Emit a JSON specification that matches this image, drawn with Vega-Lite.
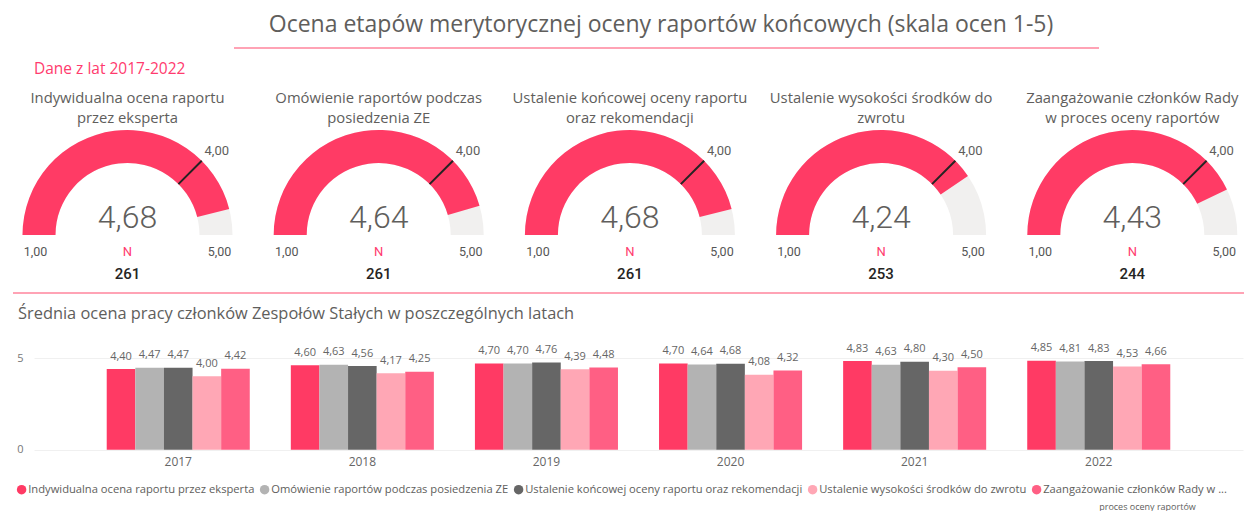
{
  "$schema": "https://vega.github.io/schema/vega-lite/v6.json",
  "padding": {"left": 12, "top": 14, "right": 0, "bottom": 0},
  "background": "white",
  "config": {
    "view": {"stroke": null},
    "font": "Open Sans",
    "locale": {"number": {"decimal": ",", "thousands": " ", "grouping": [3], "currency": ["", " zł"]}},
    "title": {"fontWeight": "normal", "color": "#605E5C", "font": "Open Sans"}
  },
  "title": {"text": "Ocena etapów merytorycznej oceny raportów końcowych (skala ocen 1-5)", "fontSize": 23, "anchor": "middle", "dx": 32, "offset": 10},
  "datasets": {
    "etapy": [
      {"etap": "Indywidualna ocena raportu przez eksperta", "tytul": "Indywidualna ocena raportu\nprzez eksperta", "srednia": 4.68, "prog": 4, "min": 1, "max": 5, "n": 261},
      {"etap": "Omówienie raportów podczas posiedzenia ZE", "tytul": "Omówienie raportów podczas\nposiedzenia ZE", "srednia": 4.64, "prog": 4, "min": 1, "max": 5, "n": 261},
      {"etap": "Ustalenie końcowej oceny raportu oraz rekomendacji", "tytul": "Ustalenie końcowej oceny raportu\noraz rekomendacji", "srednia": 4.68, "prog": 4, "min": 1, "max": 5, "n": 261},
      {"etap": "Ustalenie wysokości środków do zwrotu", "tytul": "Ustalenie wysokości środków do\nzwrotu", "srednia": 4.24, "prog": 4, "min": 1, "max": 5, "n": 253},
      {"etap": "Zaangażowanie członków Rady w proces oceny raportów", "tytul": "Zaangażowanie członków Rady\nw proces oceny raportów", "srednia": 4.43, "prog": 4, "min": 1, "max": 5, "n": 244}
    ],
    "lata": [
      {"rok": "2017", "etap": "Indywidualna ocena raportu przez eksperta", "wartosc": 4.40},
      {"rok": "2017", "etap": "Omówienie raportów podczas posiedzenia ZE", "wartosc": 4.47},
      {"rok": "2017", "etap": "Ustalenie końcowej oceny raportu oraz rekomendacji", "wartosc": 4.47},
      {"rok": "2017", "etap": "Ustalenie wysokości środków do zwrotu", "wartosc": 4.00},
      {"rok": "2017", "etap": "Zaangażowanie członków Rady w proces oceny raportów", "wartosc": 4.42},
      {"rok": "2018", "etap": "Indywidualna ocena raportu przez eksperta", "wartosc": 4.60},
      {"rok": "2018", "etap": "Omówienie raportów podczas posiedzenia ZE", "wartosc": 4.63},
      {"rok": "2018", "etap": "Ustalenie końcowej oceny raportu oraz rekomendacji", "wartosc": 4.56},
      {"rok": "2018", "etap": "Ustalenie wysokości środków do zwrotu", "wartosc": 4.17},
      {"rok": "2018", "etap": "Zaangażowanie członków Rady w proces oceny raportów", "wartosc": 4.25},
      {"rok": "2019", "etap": "Indywidualna ocena raportu przez eksperta", "wartosc": 4.70},
      {"rok": "2019", "etap": "Omówienie raportów podczas posiedzenia ZE", "wartosc": 4.70},
      {"rok": "2019", "etap": "Ustalenie końcowej oceny raportu oraz rekomendacji", "wartosc": 4.76},
      {"rok": "2019", "etap": "Ustalenie wysokości środków do zwrotu", "wartosc": 4.39},
      {"rok": "2019", "etap": "Zaangażowanie członków Rady w proces oceny raportów", "wartosc": 4.48},
      {"rok": "2020", "etap": "Indywidualna ocena raportu przez eksperta", "wartosc": 4.70},
      {"rok": "2020", "etap": "Omówienie raportów podczas posiedzenia ZE", "wartosc": 4.64},
      {"rok": "2020", "etap": "Ustalenie końcowej oceny raportu oraz rekomendacji", "wartosc": 4.68},
      {"rok": "2020", "etap": "Ustalenie wysokości środków do zwrotu", "wartosc": 4.08},
      {"rok": "2020", "etap": "Zaangażowanie członków Rady w proces oceny raportów", "wartosc": 4.32},
      {"rok": "2021", "etap": "Indywidualna ocena raportu przez eksperta", "wartosc": 4.83},
      {"rok": "2021", "etap": "Omówienie raportów podczas posiedzenia ZE", "wartosc": 4.63},
      {"rok": "2021", "etap": "Ustalenie końcowej oceny raportu oraz rekomendacji", "wartosc": 4.80},
      {"rok": "2021", "etap": "Ustalenie wysokości środków do zwrotu", "wartosc": 4.30},
      {"rok": "2021", "etap": "Zaangażowanie członków Rady w proces oceny raportów", "wartosc": 4.50},
      {"rok": "2022", "etap": "Indywidualna ocena raportu przez eksperta", "wartosc": 4.85},
      {"rok": "2022", "etap": "Omówienie raportów podczas posiedzenia ZE", "wartosc": 4.81},
      {"rok": "2022", "etap": "Ustalenie końcowej oceny raportu oraz rekomendacji", "wartosc": 4.83},
      {"rok": "2022", "etap": "Ustalenie wysokości środków do zwrotu", "wartosc": 4.53},
      {"rok": "2022", "etap": "Zaangażowanie członków Rady w proces oceny raportów", "wartosc": 4.66}
    ]
  },
  "spacing": 0,
  "bounds": "flush",
  "vconcat": [
    {
      "width": 1211, "height": 129,
      "data": {"values": [{}]},
      "mark": {"type": "rule", "color": "#FFA3B5", "strokeWidth": 2},
      "encoding": {
        "x": {"datum": 200, "type": "quantitative", "scale": {"domain": [0, 1211], "nice": false, "zero": false}, "axis": null},
        "x2": {"datum": 1065},
        "y": {"datum": 1, "type": "quantitative", "scale": {"domain": [0, 1], "nice": false}, "axis": null}
      }
    },
    {
      "width": 1191.8, "height": 116,
      "data": {"name": "etapy"},
      "title": {"text": "Dane z lat 2017-2022", "anchor": "start", "frame": "group", "color": "#FF3B6E", "fontSize": 15.5, "offset": 14},
      "encoding": {
        "x": {"field": "etap", "type": "nominal", "sort": ["Indywidualna ocena raportu przez eksperta", "Omówienie raportów podczas posiedzenia ZE", "Ustalenie końcowej oceny raportu oraz rekomendacji", "Ustalenie wysokości środków do zwrotu", "Zaangażowanie członków Rady w proces oceny raportów"], "scale": {"type": "point", "padding": 0.3722}, "axis": null}
      },
      "layer": [
        {"mark": {"type": "arc", "radius": 105, "radius2": 72, "color": "#F1F0EF"}, "encoding": {"theta": {"field": "min", "type": "quantitative", "stack": null, "scale": {"domain": [1, 5], "range": [-1.5708, 1.5708], "zero": false}}, "theta2": {"field": "max"}}},
        {"mark": {"type": "arc", "radius": 105, "radius2": 72, "color": "#FF3B65"}, "encoding": {"theta": {"field": "min", "type": "quantitative", "stack": null}, "theta2": {"field": "srednia"}}},
        {"mark": {"type": "arc", "radius": 105, "radius2": 72, "color": "#252423", "stroke": "#252423", "strokeWidth": 2}, "encoding": {"theta": {"field": "prog", "type": "quantitative", "stack": null}, "theta2": {"field": "prog"}}},
        {"mark": {"type": "text", "radius": 122, "dx": 3, "dy": 2, "fontSize": 13, "font": "Roboto", "color": "#605E5C"}, "encoding": {"theta": {"field": "prog", "type": "quantitative", "stack": null}, "text": {"field": "prog", "type": "quantitative", "format": ".2f"}}},
        {"mark": {"type": "text", "radius": 92, "dy": 16.7, "fontSize": 12.5, "font": "Roboto", "color": "#555555"}, "encoding": {"theta": {"field": "min", "type": "quantitative", "stack": null}, "text": {"field": "min", "type": "quantitative", "format": ".2f"}}},
        {"mark": {"type": "text", "radius": 92, "dy": 16.7, "fontSize": 12.5, "font": "Roboto", "color": "#555555"}, "encoding": {"theta": {"field": "max", "type": "quantitative", "stack": null}, "text": {"field": "max", "type": "quantitative", "format": ".2f"}}},
        {"mark": {"type": "text", "dy": -17.5, "fontSize": 32, "fontWeight": 300, "font": "Roboto", "color": "#605E5C"}, "encoding": {"text": {"field": "srednia", "type": "quantitative", "format": ".2f"}}},
        {"mark": {"type": "text", "text": "N", "dy": 16.7, "fontSize": 13, "font": "Roboto", "color": "#FF3B6E"}, "encoding": {}},
        {"mark": {"type": "text", "dy": 39, "fontSize": 15, "fontWeight": 500, "font": "Roboto", "color": "#252423"}, "encoding": {"text": {"field": "n", "type": "quantitative"}}},
        {"mark": {"type": "text", "baseline": "top", "lineBreak": "\n", "lineHeight": 20, "dy": -144, "fontSize": 14.8, "font": "Open Sans", "color": "#605E5C"}, "encoding": {"text": {"field": "tytul", "type": "nominal"}}}
      ]
    },
    {
      "width": 1211, "height": 64.7,
      "data": {"values": [{}]},
      "mark": {"type": "rule", "color": "#FFA3B5", "strokeWidth": 2},
      "encoding": {
        "x": {"datum": -21, "type": "quantitative", "scale": {"domain": [0, 1211], "nice": false, "zero": false}, "axis": null},
        "x2": {"datum": 1211},
        "y": {"datum": 1, "type": "quantitative", "scale": {"domain": [0, 1], "nice": false}, "axis": null}
      }
    },
    {
      "width": 1209, "height": 91.7,
      "data": {"name": "lata"},
      "title": {"text": "Średnia ocena pracy członków Zespołów Stałych w poszczególnych latach", "anchor": "start", "frame": "group", "fontSize": 16.4, "dx": -16, "offset": 20},
      "encoding": {
        "x": {"field": "rok", "type": "nominal", "scale": {"paddingInner": 0.223, "paddingOuter": 0.395},
              "axis": {"title": "proces oceny raportów", "labelAngle": 0, "domain": false, "ticks": false, "labelFontSize": 12, "labelColor": "#666666", "labelPadding": 7,
                       "titleFontSize": 9, "titleColor": "#605E5C", "titleFontWeight": "normal", "titleX": 1113, "titleY": 57, "titleAlign": "center", "titleBaseline": "middle"}},
        "xOffset": {"field": "etap", "type": "nominal", "sort": ["Indywidualna ocena raportu przez eksperta", "Omówienie raportów podczas posiedzenia ZE", "Ustalenie końcowej oceny raportu oraz rekomendacji", "Ustalenie wysokości środków do zwrotu", "Zaangażowanie członków Rady w proces oceny raportów"], "scale": {"paddingInner": 0, "paddingOuter": 0}},
        "y": {"field": "wartosc", "type": "quantitative", "scale": {"domain": [0, 5], "nice": false},
              "axis": {"values": [0, 5], "title": null, "domain": false, "ticks": false, "labelFontSize": 11, "labelColor": "#777777", "labelPadding": 11, "gridColor": "#F0F0F0"}}
      },
      "layer": [
        {
          "mark": {"type": "bar"},
          "encoding": {
            "color": {"field": "etap", "type": "nominal",
              "scale": {"domain": ["Indywidualna ocena raportu przez eksperta", "Omówienie raportów podczas posiedzenia ZE", "Ustalenie końcowej oceny raportu oraz rekomendacji", "Ustalenie wysokości środków do zwrotu", "Zaangażowanie członków Rady w proces oceny raportów"],
                        "range": ["#FF3A64", "#B3B3B3", "#666666", "#FFA7B5", "#FF5F84"]},
              "legend": {"orient": "none", "legendX": -18, "legendY": 436, "direction": "horizontal", "title": null, "symbolType": "circle", "symbolSize": 90, "symbolStrokeWidth": 0,
                         "labelFontSize": 11.2, "labelColor": "#605E5C", "labelLimit": 400, "columnPadding": 4, "labelOffset": 1,
                         "labelExpr": "datum.label == 'Zaangażowanie członków Rady w proces oceny raportów' ? 'Zaangażowanie członków Rady w ...' : datum.label"}}
          }
        },
        {
          "mark": {"type": "text", "dy": -12.5, "fontSize": 11, "color": "#666666"},
          "encoding": {"text": {"field": "wartosc", "type": "quantitative", "format": ".2f"}}
        }
      ]
    }
  ]
}
